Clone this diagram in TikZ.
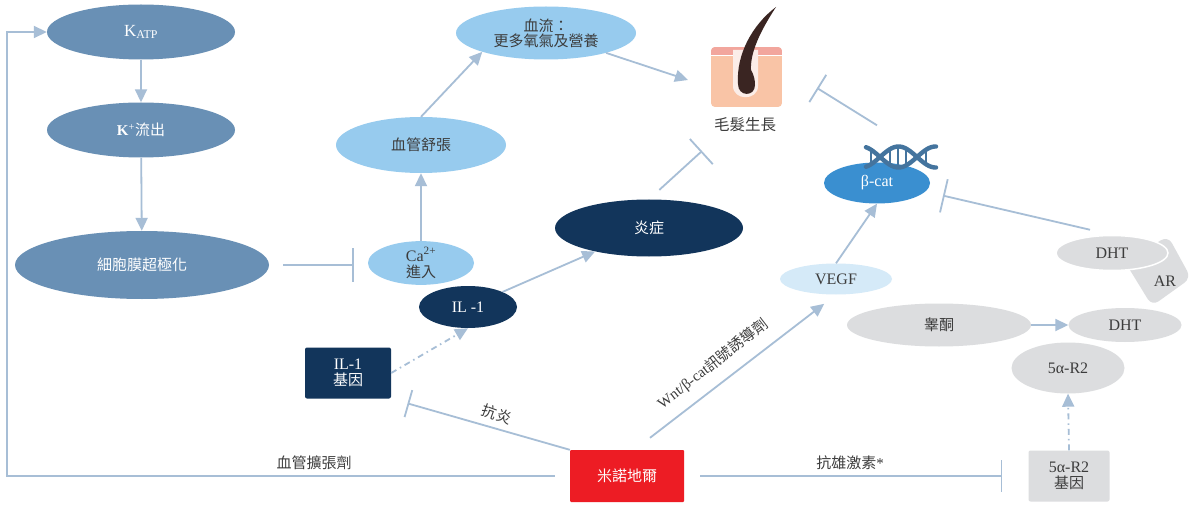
\documentclass[tikz,border=0pt]{standalone}
\usepackage{fontspec}
\setmainfont{Liberation Serif}
\newfontfamily\cjk{Noto Sans CJK TC}
\usetikzlibrary{arrows.meta,shapes.geometric}

\definecolor{steel}{HTML}{6990B5}
\definecolor{sky}{HTML}{97CBEE}
\definecolor{navy}{HTML}{12355B}
\definecolor{bcatblue}{HTML}{3A8FD0}
\definecolor{pale}{HTML}{D5EAF8}
\definecolor{grey}{HTML}{DCDDDF}
\definecolor{link}{HTML}{A7BED6}
\definecolor{txt}{HTML}{3C3C3C}
\definecolor{mred}{HTML}{ED1C24}
\definecolor{skin}{HTML}{F9C4A6}
\definecolor{skinband}{HTML}{F2A69D}
\definecolor{sheath}{HTML}{FBEDE8}
\definecolor{hairc}{HTML}{3A2522}
\definecolor{dnacol}{HTML}{44749E}

\begin{document}
\begin{tikzpicture}[x=1pt,y=-1pt,
  every node/.style={inner sep=0pt, align=center, font=\fontsize{15}{18}\selectfont},
  latin/.style={font=\fontsize{16}{18}\selectfont},
  steeloval/.style={ellipse, fill=steel, text=white},
  skyoval/.style={ellipse, fill=sky, text=txt},
  navyoval/.style={ellipse, fill=navy, text=white},
  greyoval/.style={ellipse, fill=grey, text=txt},
  conn/.style={draw=link, line width=1.8pt},
  arr/.style={conn, -{Triangle[length=13pt,width=12pt]}},
  inh/.style={conn, -{Bar[width=34pt]}},
  dashdot/.style={dash pattern=on 6pt off 4pt on 1.5pt off 4pt},
  lbl/.style={text=txt}]

\useasboundingbox (0,0) rectangle (1191,505);
\fill[white] (0,0) rectangle (1191,505);

% ---- potassium channel branch
\node[steeloval, minimum width=188pt, minimum height=55pt] (katp) at (141,32)
  {\fontsize{17}{18}\selectfont K\textsubscript{ATP}};
\node[steeloval, minimum width=188pt, minimum height=55pt] (kout) at (141,130)
  {\textbf{K}\textsuperscript{+}\cjk 流出};
\node[steeloval, minimum width=254pt, minimum height=68pt] (hyper) at (142,265)
  {\cjk 細胞膜超極化};

% ---- vasodilation branch
\node[skyoval, minimum width=106pt, minimum height=42pt] (ca) at (421,263)
  {{\fontsize{16}{18}\selectfont Ca\textsuperscript{2+}}\\[-2pt]\cjk 進入};
\node[skyoval, minimum width=170pt, minimum height=56pt] (vaso) at (421,145)
  {\cjk 血管舒張};
\node[skyoval, minimum width=180pt, minimum height=53pt] (blood) at (546,33)
  {\cjk 血流：\\[-3pt]\cjk 更多氧氣及營養};

% ---- inflammation branch
\node[navyoval, minimum width=188pt, minimum height=57pt] (infl) at (649,228)
  {\cjk 炎症};
\node[navyoval, latin, minimum width=98pt, minimum height=42pt] (il1) at (468,307)
  {IL -1};
\node[fill=navy, text=white, rounded corners=2pt, minimum width=86pt, minimum height=51pt]
  (il1gene) at (348,373) {{\fontsize{16}{18}\selectfont IL-1}\\[-2pt]\cjk 基因};

% ---- drug
\node[fill=mred, text=white, rounded corners=1pt, minimum width=114pt, minimum height=52pt]
  (mino) at (627,476) {\cjk 米諾地爾};

% ---- beta-catenin branch
\node[ellipse, latin, fill=pale, text=txt, minimum width=112pt, minimum height=31pt] (vegf) at (836,279)
  {VEGF};
\node[ellipse, latin, fill=bcatblue, text=white, minimum width=106pt, minimum height=41pt] (bcat) at (877,183)
  {\raisebox{-3pt}{β-cat}};

% DNA helix over beta-catenin
\begin{scope}[dnacol, line cap=round]
  \draw[line width=4.4pt] plot[domain=866:936, samples=50, smooth] (\x,{157+10.5*sin(180*(\x-880)/37)});
  \draw[line width=4.4pt] plot[domain=866:936, samples=50, smooth] (\x,{157-10.5*sin(180*(\x-880)/37)});
  \foreach \r in {871,890,898,906,926}
    \draw[line width=2.8pt] (\r,{157+9*sin(180*(\r-880)/37)}) -- (\r,{157-9*sin(180*(\r-880)/37)});
\end{scope}

% ---- androgen branch
\fill[grey, rounded corners=8pt] (1125,262) -- (1168,236) -- (1191,278) -- (1152,306) -- cycle;
\node[text=txt, latin] (ar) at (1165,281) {AR};
\node[greyoval, latin, draw=white, line width=1.5pt, minimum width=112pt, minimum height=35pt] (dht1) at (1112,253)
  {DHT};
\node[greyoval, minimum width=184pt, minimum height=43pt] (testo) at (939,325) {\cjk 睾酮};
\node[greyoval, latin, minimum width=113pt, minimum height=34pt] (dht2) at (1125,325) {DHT};
\node[greyoval, latin, minimum width=113pt, minimum height=51pt] (r2) at (1068,368) {5α-R2};
\node[fill=grey, text=txt, rounded corners=2pt, minimum width=81pt, minimum height=51pt]
  (r2gene) at (1069,476) {{\fontsize{16}{18}\selectfont 5α-R2}\\[-2pt]\cjk 基因};

% ---- hair follicle
\begin{scope}
  \clip[rounded corners=4pt] (711,47) rectangle (782,107);
  \fill[skin] (711,47) rectangle (782,107);
  \fill[skinband] (711,47) rectangle (782,55);
  \draw[white, line width=0.7pt] (711,55.5) -- (782,55.5);
\end{scope}
\fill[sheath] (733,50) -- (733,86) .. controls (733,101) and (758,101) .. (758,86) -- (758,50) -- cycle;
\fill[hairc] (738,84) .. controls (736,55) and (752,25) .. (776,7)
  .. controls (761,30) and (750,52) .. (751,70)
  .. controls (754,75) and (755,80) .. (755,85)
  .. controls (755,97) and (738,97) .. (738,84) -- cycle;
\node[text=txt, font=\fontsize{15.5}{18}\selectfont\cjk] (hairlbl) at (745,125) {毛髮生長};
\coordinate (hairA) at (688,80);
\coordinate (hairB) at (702,151);
\coordinate (hairC) at (817,88);
\coordinate (loopc) at (7,476);

% ---- connectors
\draw[arr] (katp) -- (kout);
\draw[arr] (kout) -- (hyper);
\draw[inh, shorten <=14pt, shorten >=14pt] (hyper.east) -- (ca.west |- hyper.east);
\draw[arr] (ca) -- (vaso);
\draw[arr] (vaso.north) -- (blood.south west);
\draw[arr] (blood) -- (hairA);
\draw[inh, shorten <=14pt] (infl.north) -- (hairB);
\draw[arr] (il1) -- (infl);
\draw[arr, dashdot] (il1gene.east) -- (il1.south);
\draw[inh, shorten >=17pt, {-Bar[width=28pt]}] (mino.north west) -- (il1gene.south east);
\draw[arr, shorten <=15pt] (mino.west) -- (loopc) |- (katp.west);
\draw[arr, shorten >=15pt] ([shift={(23,-12)}]mino.north) -- (vegf.south);
\draw[arr] (vegf.north) -- (bcat.south);
\draw[inh, shorten >=18pt] ([shift={(-22,-5)}]dht1.north) -- (bcat.-10);
\draw[inh, {-Bar[width=32pt]}] ([shift={(0,-37)}]bcat.north) -- (hairC);
\draw[inh, shorten <=16pt, shorten >=26pt, {-Bar[width=32pt]}] (mino.east) -- (r2gene.west);
\draw[arr] (testo.east) -- (dht2.west);
\draw[arr, dashdot] (r2gene.north) -- (r2.south);

% ---- connector labels
\node[lbl, rotate=-20] (l1) at (497,414) {\cjk 抗炎};
\node[lbl] (l2) at (314,463) {\cjk 血管擴張劑};
\node[lbl] (l3) at (850,463) {{\cjk 抗雄激素}*};
\node[lbl, rotate=37.7] (l4) at (713,364) {Wnt/β-cat{\cjk 訊號誘導劑}};

\end{tikzpicture}
\end{document}
